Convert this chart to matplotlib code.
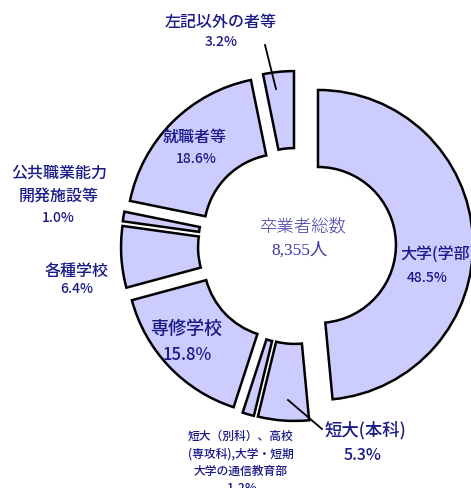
import matplotlib.pyplot as plt
from matplotlib.lines import Line2D

plt.rcParams['font.family'] = ['Noto Sans CJK JP', 'DejaVu Sans']

# 卒業者の進路（時計回り、大学から）
categories = ['大学(学部)', '短大(本科)', '短大（別科）、高校\n(専攻科),大学・短期\n大学の通信教育部',
              '専修学校', '各種学校', '公共職業能力\n開発施設等', '就職者等', '左記以外の者等']
shares = [48.5, 5.3, 1.2, 15.8, 6.4, 1.0, 18.6, 3.2]
total_grads = '8,355人'

W, H = 471, 488
fig = plt.figure(figsize=(W / 100, H / 100), dpi=100)
ax = fig.add_axes([0, 0, 1, 1])

scale = 155.0          # px per unit radius
cx, cy = 296, 246      # donut centre in px (y down)
explode = [22 / scale] + [20 / scale] * 7

ax.pie(shares, explode=explode, colors=['#ccccff'] * len(shares),
       startangle=90, counterclock=False,
       wedgeprops=dict(width=0.497, edgecolor='black', linewidth=1.8))
ax.set_xlim(-cx / scale, (W - cx) / scale)
ax.set_ylim(-(H - cy) / scale, cy / scale)
ax.set_aspect('auto')
ax.axis('off')

navy = '#1a1a88'


def put(x, y, s, size, **kw):
    kw.setdefault('ha', 'center')
    kw.setdefault('color', navy)
    kw.setdefault('linespacing', 1.25)
    kw.setdefault('fontweight', 'medium')
    fig.text(x / W, 1 - y / H, s, fontsize=size, va='center', **kw)


def leader(x1, y1, x2, y2):
    fig.add_artist(Line2D([x1 / W, x2 / W], [1 - y1 / H, 1 - y2 / H],
                          color='black', lw=1.3))


# labels: name + percent
put(400, 254, categories[0], 11.5, ha='left')
put(427, 278, f'{shares[0]}%', 10)

put(365, 430, categories[1], 12.5)
put(363, 456, f'{shares[1]}%', 11.5)
leader(288, 400, 322, 429)

put(241, 454, categories[2], 8.5, linespacing=1.45)
put(242, 489, f'{shares[2]}%', 9)

put(186, 329, categories[3], 13)
put(187, 355, f'{shares[3]}%', 12)

put(77, 271, categories[4], 11.5)
put(77, 289, f'{shares[4]}%', 10)

put(59, 185, categories[5], 11.5, linespacing=1.45)
put(58, 218, f'{shares[5]}%', 10)

put(195, 137, categories[6], 11.5)
put(196, 159, f'{shares[6]}%', 10)

put(221, 22, categories[7], 11.5)
put(221, 42, f'{shares[7]}%', 10)
leader(265, 45, 276, 89)

# centre caption
put(302, 228, '卒業者総数', 12.5, color='#3a3aa8', fontweight='light')
put(300, 250, total_grads, 12.5, color='#3a3aa8', fontweight='normal',
    family=['Liberation Serif', 'Noto Sans CJK JP'])

fig.savefig('out.png', dpi=100)
